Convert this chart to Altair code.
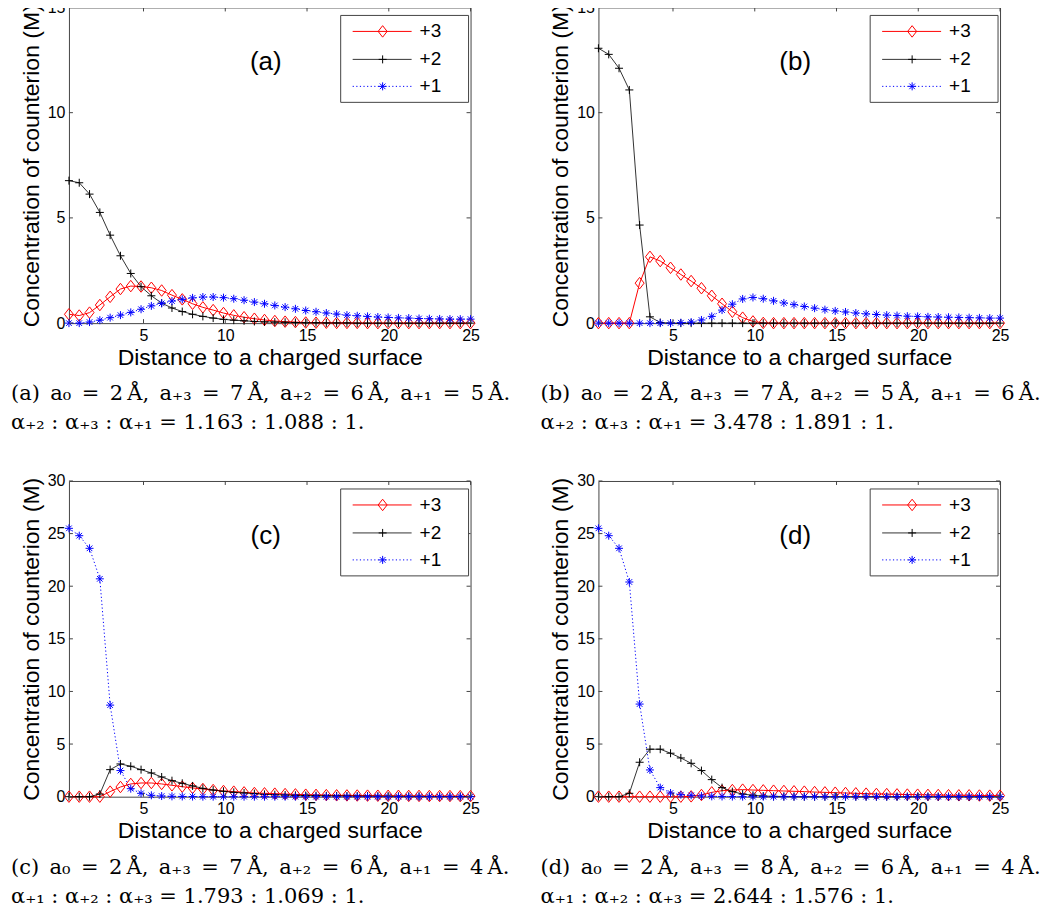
import altair as alt
import pandas as pd

# ---------------- data ----------------
DIST = [0.44, 1.07, 1.70, 2.33, 2.96, 3.59, 4.22, 4.85, 5.48, 6.11,
        6.74, 7.37, 8.00, 8.63, 9.26, 9.89, 10.52, 11.15, 11.78, 12.40,
        13.03, 13.66, 14.29, 14.92, 15.55, 16.18, 16.81, 17.44, 18.07, 18.70,
        19.33, 19.96, 20.59, 21.22, 21.85, 22.48, 23.11, 23.74, 24.37, 25.00]

# panel (a)
A_P3 = [0.42, 0.36, 0.50, 0.86, 1.25, 1.62, 1.76, 1.74, 1.68, 1.55,
        1.33, 1.13, 0.92, 0.75, 0.62, 0.48, 0.37, 0.28, 0.21, 0.15,
        0.10, 0.07, 0.05, 0.03, 0.02, 0.02, 0.01, 0.01, 0.01, 0.00,
        0.00, 0.00, 0.00, 0.00, 0.00, 0.00, 0.00, 0.00, 0.00, 0.00]
A_P2 = [6.77, 6.67, 6.13, 5.26, 4.18, 3.20, 2.36, 1.73, 1.30, 0.95,
        0.72, 0.55, 0.42, 0.32, 0.24, 0.18, 0.14, 0.11, 0.08, 0.06,
        0.05, 0.04, 0.03, 0.02, 0.02, 0.01, 0.01, 0.01, 0.00, 0.00,
        0.00, 0.00, 0.00, 0.00, 0.00, 0.00, 0.00, 0.00, 0.00, 0.00]
A_P1 = [0.00, 0.00, 0.05, 0.14, 0.26, 0.38, 0.51, 0.66, 0.82, 0.94,
        1.05, 1.13, 1.20, 1.24, 1.24, 1.21, 1.16, 1.09, 1.00, 0.92,
        0.84, 0.76, 0.68, 0.60, 0.54, 0.48, 0.43, 0.38, 0.35, 0.32,
        0.29, 0.27, 0.25, 0.24, 0.22, 0.21, 0.20, 0.19, 0.19, 0.19]

# panel (b)
B_P3 = [0.00, 0.00, 0.00, 0.00, 1.90, 3.15, 2.95, 2.63, 2.31, 2.00,
        1.66, 1.30, 0.92, 0.54, 0.26, 0.08, 0.01, 0.00, 0.00, 0.00,
        0.00, 0.00, 0.00, 0.00, 0.00, 0.00, 0.00, 0.00, 0.00, 0.00,
        0.00, 0.00, 0.00, 0.00, 0.00, 0.00, 0.00, 0.00, 0.00, 0.00]
B_P2 = [13.06, 12.77, 12.11, 11.08, 4.66, 0.30, 0.03, 0.00, 0.00, 0.00,
        0.00, 0.00, 0.00, 0.00, 0.00, 0.00, 0.00, 0.00, 0.00, 0.00,
        0.00, 0.00, 0.00, 0.00, 0.00, 0.00, 0.00, 0.00, 0.00, 0.00,
        0.00, 0.00, 0.00, 0.00, 0.00, 0.00, 0.00, 0.00, 0.00, 0.00]
B_P1 = [0.00, 0.00, 0.00, 0.00, 0.00, 0.00, 0.00, 0.00, 0.02, 0.05,
        0.15, 0.32, 0.62, 0.90, 1.15, 1.22, 1.16, 1.06, 0.96, 0.88,
        0.79, 0.71, 0.64, 0.58, 0.53, 0.48, 0.44, 0.41, 0.38, 0.36,
        0.33, 0.32, 0.30, 0.29, 0.28, 0.27, 0.26, 0.25, 0.24, 0.24]

# panel (c)
C_P3 = [0.00, 0.00, 0.00, 0.00, 0.48, 0.92, 1.21, 1.30, 1.30, 1.21,
        1.08, 0.95, 0.83, 0.73, 0.63, 0.54, 0.48, 0.41, 0.35, 0.32,
        0.29, 0.25, 0.22, 0.19, 0.17, 0.15, 0.13, 0.12, 0.11, 0.10,
        0.09, 0.08, 0.08, 0.07, 0.07, 0.06, 0.06, 0.06, 0.05, 0.05]
C_P2 = [0.00, 0.00, 0.00, 0.25, 2.57, 3.11, 2.89, 2.57, 2.25, 1.87,
        1.52, 1.27, 1.02, 0.79, 0.63, 0.51, 0.41, 0.35, 0.29, 0.22,
        0.19, 0.16, 0.13, 0.11, 0.09, 0.08, 0.07, 0.06, 0.05, 0.05,
        0.04, 0.04, 0.03, 0.03, 0.03, 0.02, 0.02, 0.02, 0.02, 0.02]
C_P1 = [25.5, 24.8, 23.6, 20.7, 8.7, 2.48, 0.76, 0.32, 0.13, 0.06,
        0.03, 0.02, 0.01, 0.00, 0.00, 0.00, 0.00, 0.00, 0.00, 0.00,
        0.00, 0.00, 0.00, 0.00, 0.00, 0.00, 0.00, 0.00, 0.00, 0.00,
        0.00, 0.00, 0.00, 0.00, 0.00, 0.00, 0.00, 0.00, 0.00, 0.00]

# panel (d)
D_P3 = [0.00, 0.00, 0.00, 0.00, 0.00, 0.00, 0.00, 0.00, 0.00, 0.03,
        0.16, 0.41, 0.57, 0.63, 0.67, 0.63, 0.60, 0.57, 0.54, 0.51,
        0.48, 0.44, 0.41, 0.38, 0.35, 0.32, 0.29, 0.26, 0.25, 0.22,
        0.20, 0.19, 0.17, 0.16, 0.14, 0.13, 0.13, 0.11, 0.10, 0.10]
D_P2 = [0.00, 0.00, 0.00, 0.32, 3.27, 4.51, 4.51, 4.13, 3.68, 3.17,
        2.48, 1.62, 0.86, 0.48, 0.25, 0.13, 0.06, 0.03, 0.02, 0.01,
        0.00, 0.00, 0.00, 0.00, 0.00, 0.00, 0.00, 0.00, 0.00, 0.00,
        0.00, 0.00, 0.00, 0.00, 0.00, 0.00, 0.00, 0.00, 0.00, 0.00]
D_P1 = [25.5, 24.8, 23.6, 20.4, 8.8, 2.54, 0.86, 0.35, 0.19, 0.13,
        0.06, 0.03, 0.02, 0.01, 0.00, 0.00, 0.00, 0.00, 0.00, 0.00,
        0.00, 0.00, 0.00, 0.00, 0.00, 0.00, 0.00, 0.00, 0.00, 0.00,
        0.00, 0.00, 0.00, 0.00, 0.00, 0.00, 0.00, 0.00, 0.00, 0.00]

SERIES = ["+3", "+2", "+1"]
X_TICKS = [5, 10, 15, 20, 25]
Y_TICKS_15 = [0, 5, 10, 15]
Y_TICKS_30 = [0, 5, 10, 15, 20, 25, 30]
TAGS = ["(a)", "(b)", "(c)", "(d)"]
SP = "\u2002"  # en space: the captions are justified with wide gaps
CAP_1 = [
    f"(a){SP}a\u2080{SP}={SP}2\u2009\u00c5,{SP}a\u208a\u2083{SP}={SP}7\u2009\u00c5,{SP}a\u208a\u2082{SP}={SP}6\u2009\u00c5,{SP}a\u208a\u2081{SP}={SP}5\u2009\u00c5.",
    f"(b){SP}a\u2080{SP}={SP}2\u2009\u00c5,{SP}a\u208a\u2083{SP}={SP}7\u2009\u00c5,{SP}a\u208a\u2082{SP}={SP}5\u2009\u00c5,{SP}a\u208a\u2081{SP}={SP}6\u2009\u00c5.",
    f"(c){SP}a\u2080{SP}={SP}2\u2009\u00c5,{SP}a\u208a\u2083{SP}={SP}7\u2009\u00c5,{SP}a\u208a\u2082{SP}={SP}6\u2009\u00c5,{SP}a\u208a\u2081{SP}={SP}4\u2009\u00c5.",
    f"(d){SP}a\u2080{SP}={SP}2\u2009\u00c5,{SP}a\u208a\u2083{SP}={SP}8\u2009\u00c5,{SP}a\u208a\u2082{SP}={SP}6\u2009\u00c5,{SP}a\u208a\u2081{SP}={SP}4\u2009\u00c5.",
]
CAP_2 = [
    "\u03b1\u208a\u2082 : \u03b1\u208a\u2083 : \u03b1\u208a\u2081 = 1.163 : 1.088 : 1.",
    "\u03b1\u208a\u2082 : \u03b1\u208a\u2083 : \u03b1\u208a\u2081 = 3.478 : 1.891 : 1.",
    "\u03b1\u208a\u2081 : \u03b1\u208a\u2082 : \u03b1\u208a\u2083 = 1.793 : 1.069 : 1.",
    "\u03b1\u208a\u2081 : \u03b1\u208a\u2082 : \u03b1\u208a\u2083 = 2.644 : 1.576 : 1.",
]

# ---------------- styling ----------------
W, H = 402, 316
SANS = "Liberation Sans"
SERIF = "DejaVu Serif"
FRAME = "#444444"
RED, BLACK, BLUE = "#ff0000", "#000000", "#0000ff"
DIAMOND = "M0,-1.15L0.9,0L0,1.15L-0.9,0Z"
PLUS = "M-1,0L1,0M0,-1L0,1"
STAR = "M-1,0L1,0M0,-1L0,1M-0.7,-0.7L0.7,0.7M-0.7,0.7L0.7,-0.7"

STYLES = [
    dict(color=RED, shape=DIAMOND, size=100, width=1.0, dash=None),
    dict(color=BLACK, shape=PLUS, size=64, width=0.8, dash=None),
    dict(color=BLUE, shape=STAR, size=64, width=1.0, dash=[1.2, 2.4]),
]
LEG_Y = [24, 52, 79]
CAP_X = -58


def panel(idx, series_vals, ymax, yticks):
    xs = alt.Scale(domain=[DIST[0], DIST[-1]], nice=False, zero=False)
    ys = alt.Scale(domain=[0, ymax], nice=False)
    xax = alt.Axis(values=X_TICKS, ticks=False, domain=False, grid=False,
                   labelFont=SANS, labelFontSize=16, labelColor="black",
                   labelPadding=4, labelFlush=False, labelOverlap=False,
                   title="Distance to a charged surface", titleFont=SANS,
                   titleFontSize=23, titleFontWeight="normal",
                   titleColor="black", titlePadding=3)
    yax = alt.Axis(values=yticks, ticks=False, domain=False, grid=False,
                   labelFont=SANS, labelFontSize=16, labelColor="black",
                   labelPadding=4, labelFlush=False, labelOverlap=False,
                   title="Concentration of counterion (M)", titleFont=SANS,
                   titleFontSize=23, titleFontWeight="normal",
                   titleColor="black", titlePadding=4)
    X = alt.X("d:Q", scale=xs, axis=xax)
    Y = alt.Y("c:Q", scale=ys, axis=yax)

    layers = []
    for vals, st in zip(series_vals, STYLES):
        df = pd.DataFrame({"d": DIST, "c": vals})
        base = alt.Chart(df).encode(x=X, y=Y)
        lk = dict(color=st["color"], strokeWidth=st["width"])
        if st["dash"]:
            lk["strokeDash"] = st["dash"]
        layers.append(base.mark_line(**lk))
        layers.append(base.mark_point(shape=st["shape"], filled=False,
                                      color=st["color"], size=st["size"],
                                      strokeWidth=1, opacity=1))

    # inward ticks on all four sides
    xt = alt.Chart(pd.DataFrame({"d": X_TICKS}))
    yt = alt.Chart(pd.DataFrame({"c": yticks}))
    layers.append(xt.mark_rule(color=FRAME).encode(x=X, y=alt.value(H), y2=alt.value(H - 4)))
    layers.append(xt.mark_rule(color=FRAME).encode(x=X, y=alt.value(0), y2=alt.value(4)))
    layers.append(yt.mark_rule(color=FRAME).encode(y=Y, x=alt.value(0), x2=alt.value(4)))
    layers.append(yt.mark_rule(color=FRAME).encode(y=Y, x=alt.value(W), x2=alt.value(W - 4)))

    one = alt.Chart(pd.DataFrame({"k": [0]}))
    # panel tag
    layers.append(one.mark_text(font=SANS, fontSize=26, align="center", baseline="middle",
                                color="black").encode(x=alt.value(197), y=alt.value(55),
                                                      text=alt.value(TAGS[idx])))
    # legend box
    layers.append(one.mark_rect(fill="white", stroke=FRAME, strokeWidth=1).encode(
        x=alt.value(272), x2=alt.value(400), y=alt.value(8), y2=alt.value(95)))
    for name, st, ly in zip(SERIES, STYLES, LEG_Y):
        rk = dict(color=st["color"], strokeWidth=st["width"])
        if st["dash"]:
            rk["strokeDash"] = st["dash"]
        layers.append(one.mark_rule(**rk).encode(x=alt.value(284), x2=alt.value(343), y=alt.value(ly)))
        layers.append(one.mark_point(shape=st["shape"], filled=False, color=st["color"],
                                     size=st["size"], strokeWidth=1, opacity=1).encode(
            x=alt.value(314), y=alt.value(ly)))
        layers.append(one.mark_text(font=SANS, fontSize=19, align="left", baseline="middle",
                                    color="black").encode(x=alt.value(351), y=alt.value(ly),
                                                          text=alt.value(name)))
    # caption
    layers.append(one.mark_text(font=SERIF, fontSize=21, align="left", baseline="middle",
                                color="black").encode(x=alt.value(CAP_X), y=alt.value(H + 71),
                                                      text=alt.value(CAP_1[idx])))
    layers.append(one.mark_text(font=SERIF, fontSize=21, align="left", baseline="middle",
                                color="black").encode(x=alt.value(CAP_X), y=alt.value(H + 100),
                                                      text=alt.value(CAP_2[idx])))
    return alt.layer(*layers).properties(width=W, height=H)


pa = panel(0, [A_P3, A_P2, A_P1], 15, Y_TICKS_15)
pb = panel(1, [B_P3, B_P2, B_P1], 15, Y_TICKS_15)
pc = panel(2, [C_P3, C_P2, C_P1], 30, Y_TICKS_30)
pd_ = panel(3, [D_P3, D_P2, D_P1], 30, Y_TICKS_30)

chart = alt.concat(pa, pb, pc, pd_, columns=2,
                   spacing={"row": 158, "column": 128}, bounds="flush").properties(
    padding={"left": 2, "top": -10, "right": 0, "bottom": 0},
    background="white",
).configure_view(stroke=FRAME, strokeWidth=1)

chart.save("out.html", embed_options={"renderer": "svg", "actions": False})
